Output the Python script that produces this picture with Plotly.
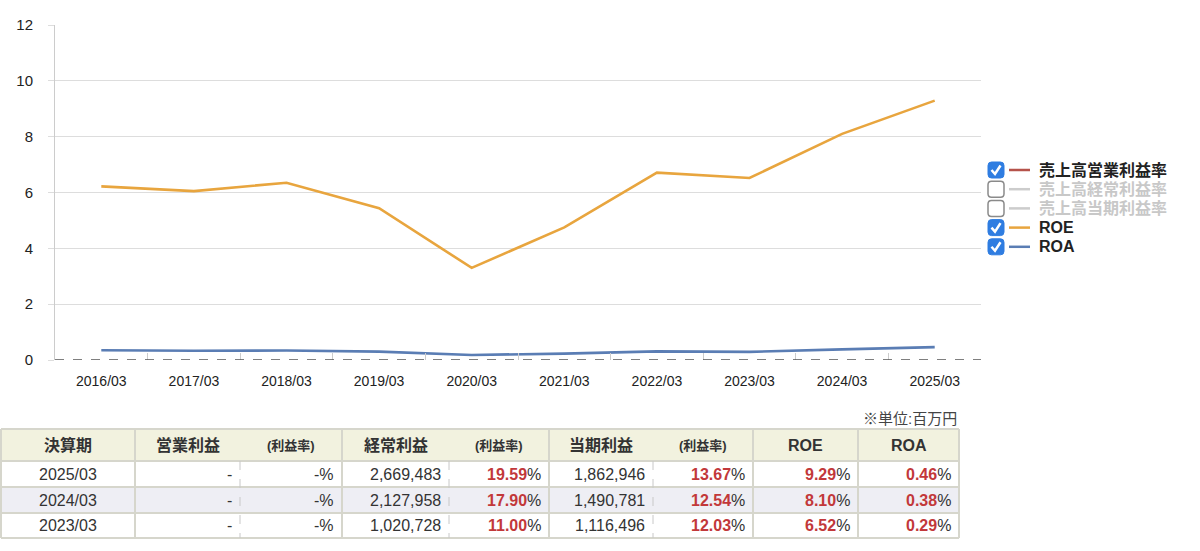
import plotly.graph_objects as go

W, H = 1200, 551

# chart data
periods = ["2016/03", "2017/03", "2018/03", "2019/03", "2020/03",
           "2021/03", "2022/03", "2023/03", "2024/03", "2025/03"]
roe = [6.22, 6.05, 6.35, 5.44, 3.30, 4.75, 6.71, 6.52, 8.10, 9.29]
roa = [0.35, 0.33, 0.34, 0.30, 0.18, 0.23, 0.31, 0.29, 0.38, 0.46]

legend_names = ["売上高営業利益率", "売上高経常利益率", "売上高当期利益率", "ROE", "ROA"]
legend_colors = ["#b5524a", "#cccccc", "#cccccc", "#e8a53e", "#5a7db4"]
legend_checked = [True, False, False, True, True]

# table data
table_header = ["決算期", "営業利益", "(利益率)", "経常利益", "(利益率)",
                "当期利益", "(利益率)", "ROE", "ROA"]
table_periods = ["2025/03", "2024/03", "2023/03"]
op_profit = ["-", "-", "-"]
op_margin = ["-", "-", "-"]
ord_profit = ["2,669,483", "2,127,958", "1,020,728"]
ord_margin = ["19.59", "17.90", "11.00"]
net_profit = ["1,862,946", "1,490,781", "1,116,496"]
net_margin = ["13.67", "12.54", "12.03"]
roe_recent = ["9.29", "8.10", "6.52"]
roa_recent = ["0.46", "0.38", "0.29"]
unit_note = "※単位:百万円"

FONT = "Liberation Sans, Arial, Noto Sans CJK JP, sans-serif"
RED = "#c2383a"
TXT = "#333333"
BORDER = "#d6d6cc"

# layout geometry in screen pixels
plot_left, plot_right, plot_top, plot_bottom = 55, 981, 25, 360
col_edges = [1, 135, 240, 342, 449, 549, 653, 753, 858, 959]
row_edges = [429, 461, 487, 513, 538]
row_fills = ["#ffffff", "#eeeef4", "#ffffff"]
pct_cols = {2, 4, 6, 7, 8}
grouped = {2, 4, 6}   # value | (利益率) pairs share a header cell border


def px(x):
    return x / W


def py(y):
    return 1 - y / H


fig = go.Figure()
fig.add_trace(go.Scatter(x=periods, y=roe, mode="lines", name="ROE",
                         line=dict(color=legend_colors[3], width=2.6)))
fig.add_trace(go.Scatter(x=periods, y=roa, mode="lines", name="ROA",
                         line=dict(color=legend_colors[4], width=2.6)))

shapes = []
annotations = []

# dashed zero line
shapes.append(dict(type="line", xref="x domain", yref="y", x0=0, x1=1, y0=0, y1=0,
                   line=dict(color="#555555", width=1.5, dash="dash")))

# custom legend with checkboxes
for i, (name, color, checked) in enumerate(zip(legend_names, legend_colors, legend_checked)):
    yc = 170 + i * 19.2
    x0, x1, y0, y1, r = 988, 1004, yc - 8, yc + 8, 3.5
    path = (f"M {px(x0 + r)} {py(y0)} L {px(x1 - r)} {py(y0)} Q {px(x1)} {py(y0)} {px(x1)} {py(y0 + r)} "
            f"L {px(x1)} {py(y1 - r)} Q {px(x1)} {py(y1)} {px(x1 - r)} {py(y1)} "
            f"L {px(x0 + r)} {py(y1)} Q {px(x0)} {py(y1)} {px(x0)} {py(y1 - r)} "
            f"L {px(x0)} {py(y0 + r)} Q {px(x0)} {py(y0)} {px(x0 + r)} {py(y0)} Z")
    if checked:
        shapes.append(dict(type="path", xref="paper", yref="paper", path=path,
                           fillcolor="#2f7de1", line=dict(color="#2f7de1", width=1)))
        shapes.append(dict(type="path", xref="paper", yref="paper",
                           path=f"M {px(x0 + 3.5)} {py(yc)} L {px(x0 + 7)} {py(yc + 4)} L {px(x0 + 12.5)} {py(yc - 4.5)}",
                           line=dict(color="white", width=2.5)))
    else:
        shapes.append(dict(type="path", xref="paper", yref="paper", path=path,
                           fillcolor="white", line=dict(color="#8a8a8a", width=1.5)))
    shapes.append(dict(type="line", xref="paper", yref="paper",
                       x0=px(1009), x1=px(1030), y0=py(yc), y1=py(yc),
                       line=dict(color=color, width=2.5)))
    annotations.append(dict(xref="paper", yref="paper", x=px(1037), y=py(yc),
                            xanchor="left", yanchor="middle", showarrow=False,
                            text=f"<b>{name}</b>",
                            font=dict(family=FONT, size=16,
                                      color="#222222" if checked else "#c8c8c8")))

# table: fills
shapes.append(dict(type="rect", xref="paper", yref="paper", layer="below",
                   x0=px(col_edges[0]), x1=px(col_edges[-1]), y0=py(row_edges[0]), y1=py(row_edges[1]),
                   fillcolor="#f2f2df", line=dict(width=0)))
for r, fill in enumerate(row_fills):
    shapes.append(dict(type="rect", xref="paper", yref="paper", layer="below",
                       x0=px(col_edges[0]), x1=px(col_edges[-1]),
                       y0=py(row_edges[r + 1]), y1=py(row_edges[r + 2]),
                       fillcolor=fill, line=dict(width=0)))
# table: horizontal borders
for ye in row_edges:
    shapes.append(dict(type="line", xref="paper", yref="paper",
                       x0=px(col_edges[0]), x1=px(col_edges[-1]), y0=py(ye), y1=py(ye),
                       line=dict(color=BORDER, width=2)))
# table: vertical borders
for c, xe in enumerate(col_edges):
    if c in grouped:
        shapes.append(dict(type="line", xref="paper", yref="paper",
                           x0=px(xe), x1=px(xe), y0=py(row_edges[1]), y1=py(row_edges[-1]),
                           line=dict(color="#c8c8c8", width=1, dash="dash")))
    else:
        shapes.append(dict(type="line", xref="paper", yref="paper",
                           x0=px(xe), x1=px(xe), y0=py(row_edges[0]), y1=py(row_edges[-1]),
                           line=dict(color=BORDER, width=2)))

# table: header text
for c, head in enumerate(table_header):
    small = head.startswith("(")
    annotations.append(dict(xref="paper", yref="paper",
                            x=px((col_edges[c] + col_edges[c + 1]) / 2),
                            y=py((row_edges[0] + row_edges[1]) / 2),
                            xanchor="center", yanchor="middle", showarrow=False,
                            text=f"<b>{head}</b>",
                            font=dict(family=FONT, size=13 if small else 16, color=TXT)))

# table: body text
body_cols = [table_periods, op_profit, op_margin, ord_profit, ord_margin,
             net_profit, net_margin, roe_recent, roa_recent]
for c, col in enumerate(body_cols):
    for r, v in enumerate(col):
        if c in pct_cols:
            text = "-%" if v == "-" else f"<b><span style='color:{RED}'>{v}</span></b>%"
        else:
            text = v
        if c == 0:
            xa, xpos = "center", (col_edges[c] + col_edges[c + 1]) / 2
        else:
            xa, xpos = "right", col_edges[c + 1] - 6
        annotations.append(dict(xref="paper", yref="paper", x=px(xpos),
                                y=py((row_edges[r + 1] + row_edges[r + 2]) / 2),
                                xanchor=xa, yanchor="middle", showarrow=False, text=text,
                                font=dict(family=FONT, size=16, color=TXT)))

annotations.append(dict(xref="paper", yref="paper", x=px(col_edges[-1]), y=py(418),
                        xanchor="right", yanchor="middle", showarrow=False, text=unit_note,
                        font=dict(family=FONT, size=15, color="#444444")))

fig.update_layout(
    width=W, height=H,
    margin=dict(l=0, r=0, t=0, b=0),
    paper_bgcolor="white", plot_bgcolor="white",
    showlegend=False,
    font=dict(family=FONT, size=14, color="#222222"),
    xaxis=dict(domain=[px(plot_left), px(plot_right)], type="category",
               range=[-0.5, len(periods) - 0.5], tickson="boundaries",
               ticks="inside", ticklen=7, tickcolor="#cccccc",
               showgrid=False, showline=False, zeroline=False, automargin=False,
               tickfont=dict(size=14, color="#222222"), ticklabelstandoff=11),
    yaxis=dict(domain=[py(plot_bottom), py(plot_top)], range=[0, 12], dtick=2,
               gridcolor="#dddddd", gridwidth=1, showline=True, linecolor="#cccccc",
               ticks="outside", ticklen=6, tickcolor="#dddddd", zeroline=False,
               automargin=False,
               tickfont=dict(size=15, color="#222222"), ticklabelstandoff=12),
    shapes=shapes,
    annotations=annotations,
)

fig.write_html("out.html", config={"displayModeBar": False},
               post_script="document.body.style.margin='0';document.body.style.overflow='hidden';")
